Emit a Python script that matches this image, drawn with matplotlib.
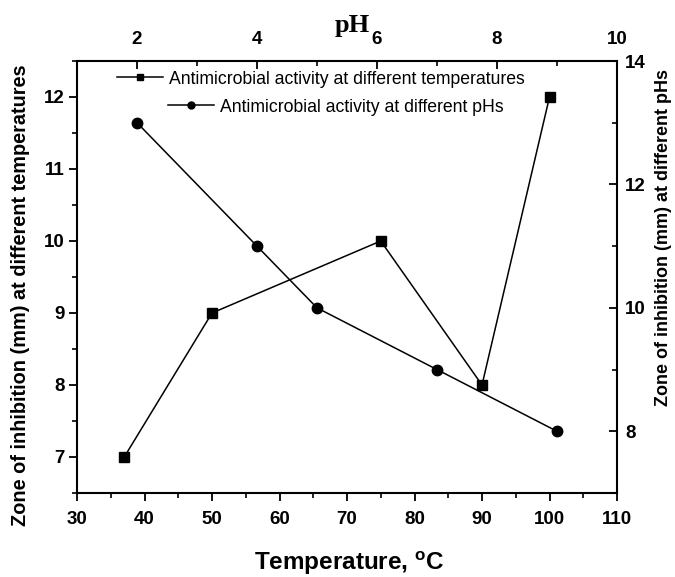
import matplotlib
matplotlib.use("Agg")
import matplotlib.pyplot as plt
from matplotlib.ticker import MultipleLocator

temps = [37, 50, 75, 90, 100]
zone_temp = [7, 9, 10, 8, 12]
ph = [2, 4, 5, 7, 9]
zone_ph = [13, 11, 10, 9, 8]

plt.rcParams['font.family'] = ['Liberation Sans', 'DejaVu Sans']
plt.rcParams['mathtext.fontset'] = 'custom'
plt.rcParams['mathtext.rm'] = 'Liberation Sans:bold'
plt.rcParams['mathtext.it'] = 'Liberation Sans:bold'
plt.rcParams['mathtext.bf'] = 'Liberation Sans:bold'

W, H = 675, 577
fig = plt.figure(figsize=(W / 100, H / 100), dpi=100)
L, R, T, B = 77, 617, 61, 493
pos = [L / W, 1 - B / H, (R - L) / W, (B - T) / H]
ax = fig.add_axes(pos)
ax2 = fig.add_axes(pos, frameon=False)

l1, = ax.plot(temps, zone_temp, color='black', lw=1.1, marker='s', ms=6.5,
              label='Antimicrobial activity at different temperatures')
ax.set_xlim(30, 110)
ax.set_ylim(6.5, 12.5)
ax.xaxis.set_major_locator(MultipleLocator(10))
ax.xaxis.set_minor_locator(MultipleLocator(5))
ax.yaxis.set_major_locator(MultipleLocator(1))
ax.yaxis.set_minor_locator(MultipleLocator(0.5))

l2, = ax2.plot(ph, zone_ph, color='black', lw=1.1, marker='o', ms=7.5,
               label='Antimicrobial activity at different pHs')
ax2.set_xlim(1, 10)
ax2.set_ylim(7, 14)
ax2.xaxis.tick_top()
ax2.yaxis.tick_right()
ax2.set_xticks([2, 4, 6, 8, 10])
ax2.set_yticks([8, 10, 12, 14])
ax2.xaxis.set_minor_locator(MultipleLocator(1))
ax2.yaxis.set_minor_locator(MultipleLocator(1))

ax.tick_params(which='major', direction='out', length=6, width=1.3, labelsize=13.5)
ax.tick_params(which='minor', direction='out', length=3.5, width=1.2)
ax.tick_params(axis='x', which='major', pad=7)
ax.tick_params(axis='y', which='major', pad=3)
ax2.tick_params(which='major', direction='in', length=6, width=1.3, labelsize=13.5)
ax2.tick_params(which='minor', direction='in', length=3.5, width=1.2)
ax2.tick_params(axis='x', which='major', pad=9)
ax2.tick_params(axis='y', which='major', pad=6)
for a in (ax, ax2):
    for lab in a.get_xticklabels() + a.get_yticklabels():
        lab.set_fontweight('bold')
for s in ax.spines.values():
    s.set_linewidth(1.5)

fig.text(349 / W, 1 - 570 / H, r'Temperature, $^{\mathregular{o}}$C', fontsize=17.5,
         fontweight='bold', ha='center', va='baseline')
fig.text(21 / W, 1 - 295 / H, 'Zone of inhibition (mm) at different temperatures',
         fontsize=14.3, fontweight='bold', rotation=90, ha='center', va='center')
fig.text(664 / W, 1 - 237 / H, 'Zone of inhibition (mm) at different pHs',
         fontsize=13, fontweight='bold', rotation=90, ha='center', va='center')
fig.text(352 / W, 1 - 32 / H, 'pH', fontsize=19, fontweight='bold',
         family=['Liberation Serif', 'DejaVu Serif'], ha='center', va='baseline')

common = dict(frameon=False, fontsize=12.7, handlelength=2.6, handletextpad=0.35,
              borderpad=0, borderaxespad=0, markerscale=0.67,
              loc='center left', bbox_transform=fig.transFigure)
leg1 = ax.legend(handles=[l1], bbox_to_anchor=(117 / W, 1 - 79 / H), **common)
leg2 = ax2.legend(handles=[l2], bbox_to_anchor=(168 / W, 1 - 107 / H), **common)

fig.savefig('out.png', dpi=100)
